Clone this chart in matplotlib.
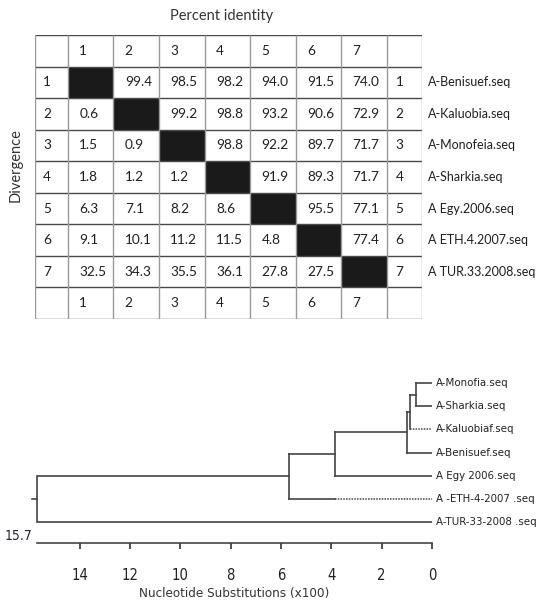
import matplotlib
matplotlib.use('Agg')
import numpy as np
from matplotlib import pyplot as plt
from matplotlib import font_manager

# --- Daten -----------------------------------------------------------------
seq_names = ['A-Benisuef.seq', 'A-Kaluobia.seq', 'A-Monofeia.seq', 'A-Sharkia.seq',
             'A Egy.2006.seq', 'A ETH.4.2007.seq', 'A TUR.33.2008.seq']
# obere Dreiecksmatrix = Percent identity, untere = Divergence (None = Diagonale)
row1 = [None, 99.4, 98.5, 98.2, 94.0, 91.5, 74.0]
row2 = [0.6, None, 99.2, 98.8, 93.2, 90.6, 72.9]
row3 = [1.5, 0.9, None, 98.8, 92.2, 89.7, 71.7]
row4 = [1.8, 1.2, 1.2, None, 91.9, 89.3, 71.7]
row5 = [6.3, 7.1, 8.2, 8.6, None, 95.5, 77.1]
row6 = [9.1, 10.1, 11.2, 11.5, 4.8, None, 77.4]
row7 = [32.5, 34.3, 35.5, 36.1, 27.8, 27.5, None]
matrix = [row1, row2, row3, row4, row5, row6, row7]

# Baum
leaf_names = ['A-Monofia.seq', 'A-Sharkia.seq', 'A-Kaluobiaf.seq', 'A-Benisuef.seq',
              'A Egy 2006.seq', 'A -ETH-4-2007 .seq', 'A-TUR-33-2008 .seq']
# Knoten: (Hoehe, Kind1, Kind2); Blaetter = Index in leaf_names
tree = (15.7, (5.7, (3.85, (1.0, (0.88, (0.63, 0, 1), 2), 3), 4), 5), 6)
# Blaetter mit gepunktetem Ast ab Hoehe x
dotted_from = {2: 0.88, 5: 3.85}
x_ticks = [14, 12, 10, 8, 6, 4, 2, 0]
root_label = '15.7'

# --- Fonts -----------------------------------------------------------------
avail = set(f.name for f in font_manager.fontManager.ttflist)
tab_font = 'Lato' if 'Lato' in avail else 'DejaVu Sans'
# schmale Schrift fuer den Baum suchen (Arial Narrow Ersatz)
narrow = [f.fname for f in font_manager.fontManager.ttflist
          if 'SansNarrow-Regular' in f.fname]
cond = [f.fname for f in font_manager.fontManager.ttflist
        if f.fname.endswith('DejaVuSansCondensed.ttf')]
if narrow:
    tfp = font_manager.FontProperties(fname=narrow[0]); tsize = 10
elif cond:
    tfp = font_manager.FontProperties(fname=cond[0]); tsize = 8.2
else:
    tfp = font_manager.FontProperties(family='Liberation Sans'); tsize = 8.8

def tf(size):
    p = tfp.copy()
    p.set_size(size)
    return p

txt_col = '#1f1f1f'
line_col = '#444444'

W, H = 537, 610
fig = plt.figure(figsize=(W / 100, H / 100), dpi=100)

# --- Tabelle ---------------------------------------------------------------
ax = fig.add_axes([35 / W, 1 - 319 / H, 387 / W, 284 / H])
col_w = np.array([0.72] + [1.0] * 7 + [0.77])
col_x = np.concatenate([[0], np.cumsum(col_w)])
n_rows = 9
ax.set_xlim(0, col_x[-1])
ax.set_ylim(n_rows, 0)
ax.axis('off')

ax.hlines(np.arange(n_rows + 1), 0, col_x[-1], colors='#4a4a4a', lw=1.0)
ax.vlines(col_x, 0, n_rows, colors='#999999', lw=1.0)

def cell_text(c, r, s):
    ax.text(col_x[c] + 0.25 * col_w[c], r + 0.5, s, ha='left', va='center',
            fontsize=9.8, family=tab_font, color=txt_col)

n = len(matrix)
for j in range(n):
    cell_text(j + 1, 0, str(j + 1))
    cell_text(j + 1, n_rows - 1, str(j + 1))
for i, row in enumerate(matrix):
    cell_text(0, i + 1, str(i + 1))
    cell_text(n + 1, i + 1, str(i + 1))
    for j, v in enumerate(row):
        if v is None:
            ax.fill_between([col_x[j + 1], col_x[j + 2]], i + 1, i + 2,
                            color='#1a1a1a', lw=0)
        else:
            cell_text(j + 1, i + 1, '%.1f' % v)
    ax.text(col_x[-1] + 0.13, i + 1.5, seq_names[i], ha='left', va='center',
            fontsize=9, family=tab_font, color=txt_col, clip_on=False)

fig.text(222 / W, 1 - 16 / H, 'Percent identity', ha='center', va='center',
         fontsize=10.5, family=tab_font, color='#333333')
fig.text(16 / W, 1 - 165 / H, 'Divergence', ha='center', va='center', rotation=90,
         fontsize=10.5, family=tab_font, color='#333333')

# --- Baum ------------------------------------------------------------------
tx = fig.add_axes([37 / W, 1 - 543 / H, 395 / W, (543 - 370) / H])
tx.set_xlim(15.7, 0)
tx.set_ylim(6.9, -0.56)
for s in ['top', 'left', 'right']:
    tx.spines[s].set_visible(False)
tx.spines['bottom'].set_color(line_col)
tx.spines['bottom'].set_linewidth(1.2)
tx.set_yticks([])
tx.set_xticks(x_ticks)
tx.tick_params(axis='x', direction='out', length=4, width=1.1, color='#222222',
               pad=14, labelcolor='#222222')
for lab in tx.get_xticklabels():
    lab.set_fontproperties(tf(tsize + 2.4))
tx.set_xlabel('Nucleotide Substitutions (x100)', fontproperties=tf(tsize + 1.4),
              color='#333333', labelpad=3)

def draw(node, parent_x):
    if isinstance(node, int):
        y = node
        x_dot = dotted_from.get(node)
        if x_dot is None:
            tx.plot([parent_x, 0], [y, y], color=line_col, lw=1.2)
        else:
            tx.plot([parent_x, x_dot], [y, y], color=line_col, lw=1.2)
            tx.plot([x_dot, 0], [y, y], color=line_col, lw=1.1, ls=(0, (1, 0.8)))
        tx.text(-0.15, y, leaf_names[node], ha='left', va='center',
                fontproperties=tf(tsize), color='#222222', clip_on=False)
        return y
    h, a, b = node
    ya = draw(a, h)
    yb = draw(b, h)
    tx.plot([h, h], [ya, yb], color=line_col, lw=1.2, clip_on=False)
    y = (ya + yb) / 2
    if parent_x is not None:
        tx.plot([parent_x, h], [y, y], color=line_col, lw=1.2)
    return y

y_root = draw(tree, None)
tx.plot([tree[0], tree[0] + 0.2], [y_root, y_root], color=line_col, lw=1.2,
        clip_on=False)
tx.annotate(root_label, xy=(tree[0], 6.9), xytext=(-3, 0), textcoords='offset points',
            ha='right', va='bottom', fontproperties=tf(tsize + 1.8), color='#222233',
            annotation_clip=False)

fig.savefig('out.png', dpi=100)
